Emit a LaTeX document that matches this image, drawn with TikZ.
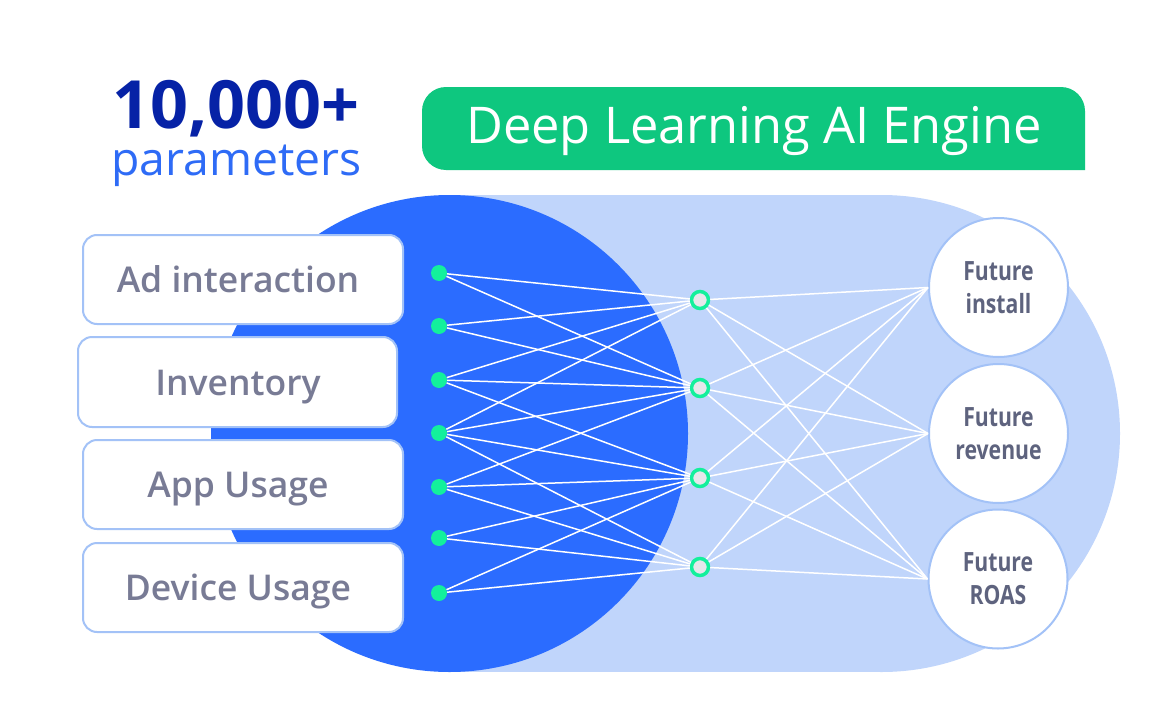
\documentclass[tikz,border=0pt]{standalone}
\usepackage{fontspec}
\setmainfont{Open Sans}
\IfFontExistsTF{Open Sans SemiBold}{\newfontfamily\semib{Open Sans SemiBold}}{%
  \IfFontExistsTF{Open Sans Semibold}{\newfontfamily\semib{Open Sans Semibold}}{%
    \newfontfamily\semib{Open Sans}[FakeBold=2.2]}}
\newfontfamily\condb{Open Sans}[FakeStretch=0.8]
\definecolor{darkblue}{HTML}{2B6CFF}
\definecolor{lightblue}{HTML}{C0D5FB}
\definecolor{bgreen}{HTML}{0EC77F}
\definecolor{ngreen}{HTML}{13F09C}
\definecolor{navy}{HTML}{0622A6}
\definecolor{paramblue}{HTML}{2E6BF6}
\definecolor{boxborder}{HTML}{A3C2F7}
\definecolor{boxtext}{HTML}{787B95}
\definecolor{outtext}{HTML}{5E637E}
\definecolor{hfill}{HTML}{E6E7EB}
\begin{document}
\begin{tikzpicture}[x=1pt,y=-1pt,
  inbox/.style={draw=boxborder,line width=2pt,fill=white,rounded corners=14pt,minimum width=320pt,minimum height=89pt,inner sep=0pt},
  intext/.style={anchor=base,text=boxtext,font=\semib\fontsize{35.5}{40}\selectfont},
  inp/.style={circle,fill=ngreen,minimum size=16pt,inner sep=0pt},
  hid/.style={circle,draw=ngreen,line width=3.5pt,fill=hfill,minimum size=17pt,inner sep=0pt},
  outc/.style={circle,draw=boxborder,line width=2pt,fill=white,minimum size=139pt,inner sep=0pt,align=center,text=outtext,font=\condb\bfseries\fontsize{26.5}{33}\selectfont},
  wire/.style={white,line width=1.5pt}]
\useasboundingbox (0,0) rectangle (1168,720);
\fill[white] (0,0) rectangle (1168,720);
% background shapes
\fill[lightblue] (449.5,195) rectangle (881.5,672);
\fill[lightblue] (881.5,433.5) circle (238.5pt);
\fill[darkblue] (449.5,433.5) circle (238.5pt);
% banner
\fill[bgreen,rounded corners=24pt] (1085,170) -- (422,170) -- (422,87) -- (1085,87) -- (1085,170);
\node[anchor=base,text=white,font=\fontsize{50.6}{60}\selectfont,inner sep=0pt] (banner) at (754,143) {Deep Learning AI Engine};
% title
\node[anchor=base west,text=navy,font=\bfseries\fontsize{66.5}{70}\selectfont,inner sep=0pt] (count) at (112,128) {10,000+};
\node[anchor=base west,text=paramblue,font=\fontsize{46.3}{50}\selectfont,inner sep=0pt] (params) at (111,175) {parameters};
% input boxes
\node[inbox] (b1) at (243,279.5) {};
\node[inbox,minimum width=319pt,minimum height=90pt] (b2) at (237.5,382) {};
\node[inbox] (b3) at (243,484.5) {};
\node[inbox] (b4) at (243,587.5) {};
\node[intext] (t1) at (238,292.5) {Ad interaction};
\node[intext] (t2) at (238,395) {Inventory};
\node[intext] (t3) at (238,497.5) {App Usage};
\node[intext] (t4) at (238,600.5) {Device Usage};
% network nodes
\node[inp] (i1) at (439,273) {};
\node[inp] (i2) at (439,326) {};
\node[inp] (i3) at (439,380) {};
\node[inp] (i4) at (439,433) {};
\node[inp] (i5) at (439,487) {};
\node[inp] (i6) at (439,538) {};
\node[inp] (i7) at (439,593) {};
\node[hid] (h1) at (700,300) {};
\node[hid] (h2) at (700,388) {};
\node[hid] (h3) at (700,478) {};
\node[hid] (h4) at (700,567) {};
\node[outc] (o1) at (998.5,287.5) {Future\\install};
\node[outc] (o2) at (998.5,433.5) {Future\\revenue};
\node[outc] (o3) at (998,579) {Future\\ROAS};
% wires
\foreach \a/\b in {i1/h1,i1/h2,i2/h1,i2/h2,i3/h1,i3/h2,i3/h3,i4/h1,i4/h2,i4/h3,i4/h4,i5/h2,i5/h3,i5/h4,i6/h3,i6/h4,i7/h3,i7/h4}
  \draw[wire] (\a) -- (\b);
\foreach \h in {h1,h2,h3,h4}
  \foreach \o in {o1,o2,o3}
    \draw[wire] (\h) -- (\o.west);
\end{tikzpicture}
\end{document}
